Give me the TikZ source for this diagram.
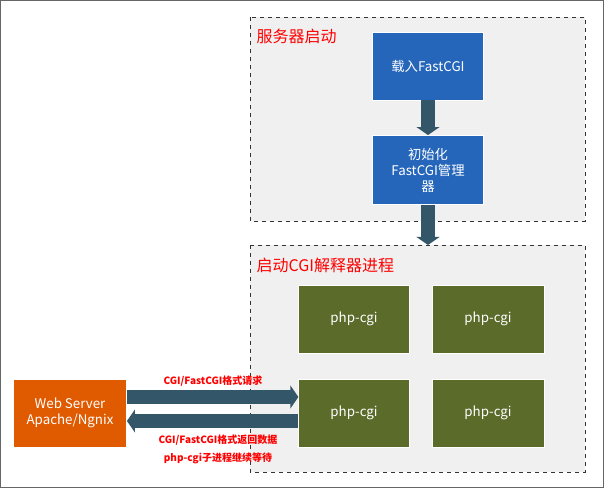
\documentclass[tikz,border=0pt]{standalone}
\usepackage{fontspec}
\setmainfont{Noto Sans CJK SC}
\usetikzlibrary{arrows.meta}
\definecolor{boxblue}{HTML}{2566BA}
\definecolor{boxgreen}{HTML}{5A6B2A}
\definecolor{boxorange}{HTML}{E05A00}
\definecolor{arrowteal}{HTML}{335769}
\tikzset{
x=0.75pt, y=-0.75pt,
stage/.style={draw=black!80, dashed, fill=gray!12}, % dashed group frames
stagetitle/.style={anchor=west, text=red, font=\fontsize{12}{14}\selectfont},
phase/.style={draw=white, fill=boxblue, text=white, align=center, font=\fontsize{10}{12}\selectfont},
worker/.style={draw=white, fill=boxgreen, text=white, font=\fontsize{10}{12}\selectfont},
flow/.style={arrowteal, line width=11pt, -{Triangle[width=17pt,length=6pt]}},
flowtext/.style={text=red, font=\bfseries\fontsize{7.5}{9}\selectfont, inner sep=1pt},
}
\begin{document}
\begin{tikzpicture}
\useasboundingbox (0,0) rectangle (604,488);
\draw[black!60] (0.5,0.5) rectangle (603.5,487.5);

% groups
\draw[stage] (250,17) rectangle (585,221);
\draw[stage] (250,245) rectangle (585,472);
\node[stagetitle] (t1) at (252,36) {服务器启动};
\node[stagetitle] (t2) at (252,265) {启动CGI解释器进程};

% startup steps
\node[phase, minimum width=83pt, minimum height=51pt] (load) at (428,66) {载入FastCGI};
\node[phase, minimum width=83pt, minimum height=52pt] (init) at (428,170) {初始化\\FastCGI管理\\器};
\coordinate (pool) at (428,245);

% workers
\node[worker, minimum width=83pt, minimum height=51pt] (w1) at (354,319) {php-cgi};
\node[worker, minimum width=84pt, minimum height=51pt] (w2) at (488,319) {php-cgi};
\node[worker, minimum width=83pt, minimum height=51pt] (w3) at (354,413) {php-cgi};
\node[worker, minimum width=84pt, minimum height=51pt] (w4) at (488,413) {php-cgi};

\node[draw=white, fill=boxorange, text=white, align=center, minimum width=85pt, minimum height=51pt,
  font=\fontsize{10}{12}\selectfont] (web) at (70,413) {Web Server\\Apache/Ngnix};

% arrows
\draw[flow, line width=10pt] (load.south) -- (init.north);
\draw[flow, line width=10pt] (init.south) -- (pool);
\draw[flow] ([yshift=12pt]web.east) -- ([yshift=12pt]w3.west);
\draw[flow] ([yshift=-6pt]w3.west) -- ([yshift=-6pt]web.east);

\node[flowtext] (req) at (213,381) {CGI/FastCGI格式请求};
\node[flowtext] (resp) at (218,440) {CGI/FastCGI格式返回数据};
\node[flowtext] (wait) at (218,458) {php-cgi子进程继续等待};
\end{tikzpicture}
\end{document}
